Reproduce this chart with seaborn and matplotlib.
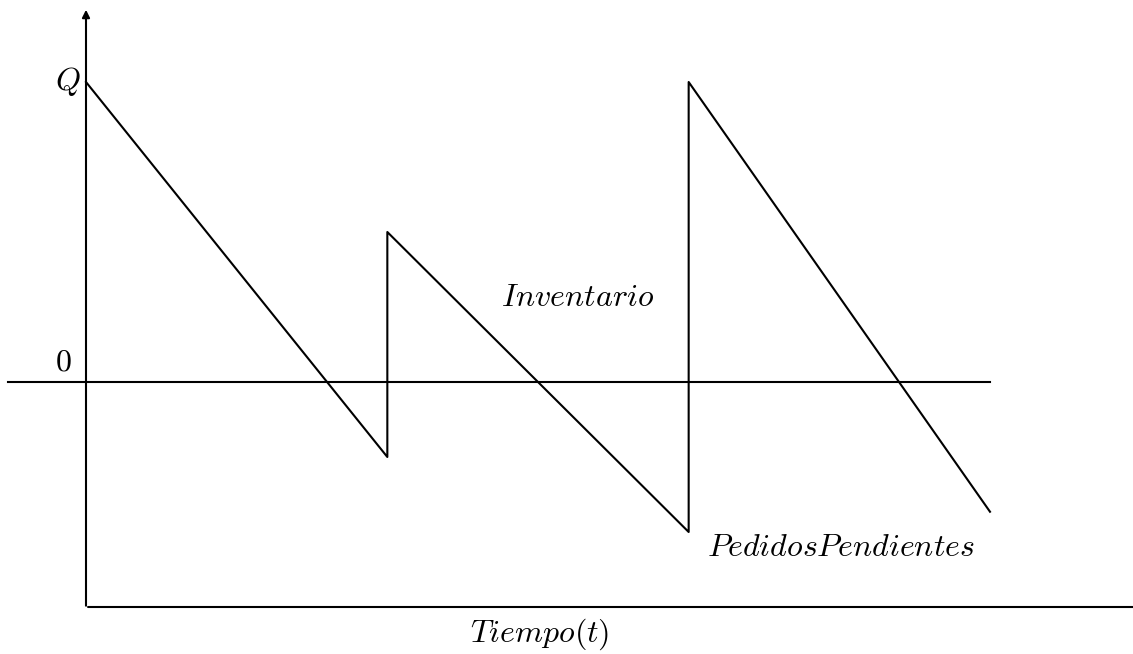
import matplotlib.pyplot as plt
import seaborn as sns
import pandas as pd

# puntos del diente de sierra (tiempo, nivel de inventario)
tiempo = [0, 4, 4, 8, 8, 12]
nivel = [4, -1, 2, -2, 4, -1.73]
Q = 4

plt.rcParams['mathtext.fontset'] = 'cm'
plt.rcParams['font.family'] = 'DejaVu Serif'

df = pd.DataFrame({'t': tiempo, 'y': nivel})

fig = plt.figure(figsize=(11.33, 6.54), dpi=100)
ax = fig.add_axes([0, 0, 1, 1])
px = 904 / 12  # pixeles por unidad de tiempo
ax.set_xlim(-86 / px, 1047 / px)
ax.set_ylim(-272 / 75, 382 / 75)
ax.axis('off')

sns.lineplot(data=df, x='t', y='y', sort=False, estimator=None,
             color='black', lw=1.5, ax=ax)

# ejes con flecha
ax.annotate('', xy=(0, 5.0), xytext=(0, -3.02), annotation_clip=False,
            arrowprops=dict(arrowstyle='-|>', color='black', lw=1.5, mutation_scale=11))
ax.annotate('', xy=(14.1, -3.0), xytext=(-0.01, -3.0), annotation_clip=False,
            arrowprops=dict(arrowstyle='-|>', color='black', lw=1.5, mutation_scale=11))
# linea de cero
ax.plot([-78 / px, 12], [0, 0], color='black', lw=1.5)

fs = 23
ax.text(-18 / px, Q, r'$Q$', fontsize=fs, ha='center', va='center')
ax.text(-23 / px, 0.27, r'$\mathrm{0}$', fontsize=fs, ha='center', va='center')
ax.text(492 / px, 1.13, r'$Inventario$', fontsize=fs, ha='center', va='center')
ax.text(755 / px, -2.21, r'$PedidosPendientes$', fontsize=fs, ha='center', va='center')
ax.text(454 / px, -3.37, r'$Tiempo(t)$', fontsize=fs, ha='center', va='center')

plt.savefig('out.png', dpi=100)
